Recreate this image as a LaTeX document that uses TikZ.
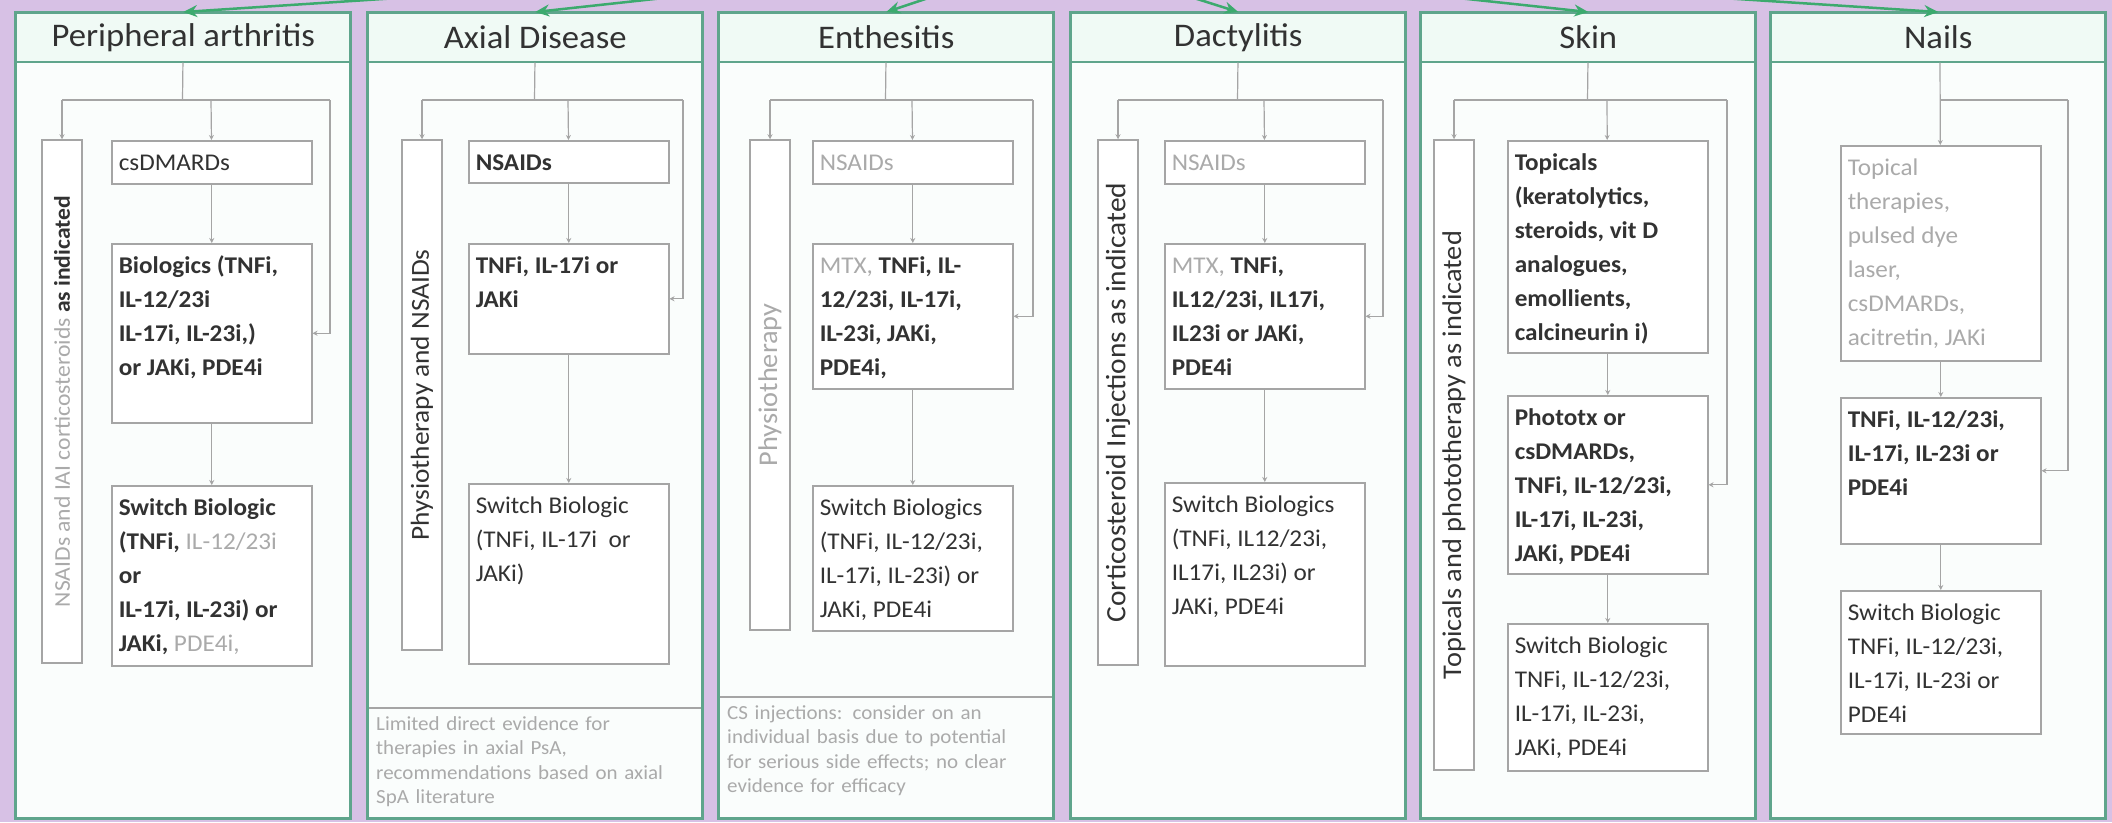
\documentclass[tikz,border=0pt]{standalone}
\usepackage{fontspec}
\setmainfont{Carlito}[FakeStretch=1.05]
\usepackage{tikz}
\usetikzlibrary{arrows.meta}

\definecolor{lavender}{RGB}{215,193,229}
\definecolor{panelgreen}{RGB}{95,165,140}
\definecolor{headfill}{RGB}{240,250,245}
\definecolor{bodyfill}{RGB}{250,253,252}
\definecolor{boxgray}{RGB}{165,165,165}
\definecolor{textdark}{RGB}{50,50,50}
\definecolor{palegray}{RGB}{170,170,170}
\definecolor{flowgreen}{RGB}{60,170,110}

% light text inside a box
\newcommand{\pale}[1]{{\mdseries\color{palegray}#1}}
% top aligned box text: inner height, then text
\newcommand{\boxtext}[2]{\parbox[c][#1][t]{186pt}{\raggedright\rule{0pt}{22pt}#2}}

\begin{document}
\begin{tikzpicture}[
    x=1pt, y=-1pt,
    every node/.style={text=textdark},
    % panel heading
    head/.style={draw=panelgreen, line width=1.5pt, fill=headfill, anchor=north west,
                 minimum width=335pt, minimum height=49pt, inner sep=0pt,
                 font=\fontsize{33}{36}\selectfont},
    % treatment boxes
    tbox/.style={draw=boxgray, line width=1.5pt, fill=white, anchor=north west,
                 inner xsep=7pt, inner ysep=8pt, font=\fontsize{24}{34}\selectfont},
    tboxb/.style={tbox, font=\fontsize{24}{34}\selectfont\bfseries},
    % rotated boxes on the left
    sidebox/.style={draw=boxgray, line width=1.5pt, fill=white, rotate=90,
                 minimum height=40pt, inner sep=0pt, font=\fontsize{#1}{30}\selectfont},
    sidebox/.default=26,
    note/.style={anchor=north west, text width=322pt, align=left, inner sep=0pt,
                 text=palegray, font=\fontsize{20}{24.5}\selectfont},
    link/.style={draw=boxgray, line width=1.2pt},
    arrow/.style={link, -{Stealth[length=5pt, width=5pt]}},
    flow/.style={draw=flowgreen, line width=2.5pt, -{Stealth[length=14pt, width=12pt]}},
    panel/.style={draw=panelgreen, line width=3pt}
]

\useasboundingbox (0,0) rectangle (2112,822);
\clip (0,0) rectangle (2112,822);
\fill[lavender] (0,0) rectangle (2112,822);

% === PANELS ===
\foreach \px in {15,367,718,1070,1420,1770}
    \fill[bodyfill] (\px,12) rectangle ++(335,806);

% === PANEL 1: PERIPHERAL ARTHRITIS ===
\node[head] (h1) at (15,12) {Peripheral arthritis};
\node[sidebox=22.5, minimum width=523pt] (s1) at (62,401.5)
    {\pale{NSAIDs and IAI corticosteroids} \textbf{as indicated}};
\node[tbox] (a1) at (111,140) {\boxtext{27pt}{csDMARDs}};
\node[tboxb] (b1) at (111,243)
    {\boxtext{163pt}{Biologics (TNFi,\\ IL-12/23i\\ IL-17i, IL-23i,)\\ or JAKi, PDE4i}};
\node[tboxb] (c1) at (111,485)
    {\boxtext{164pt}{Switch Biologic\\ (TNFi, \pale{IL-12/23i}\\ or\\ IL-17i, IL-23i) or\\ JAKi, \pale{PDE4i,}}};

\coordinate (j1) at (182.5,100);
\coordinate (l1) at (62,100);
\coordinate (m1) at (211,100);
\coordinate (r1) at (330,100);
\draw[link] (h1) -- (j1);
\draw[link] (l1) -- (r1);
\draw[arrow] (l1) -- (s1);
\draw[arrow] (m1) -- (a1);
\draw[arrow] (r1) |- (b1);
\draw[arrow] (a1) -- (b1);
\draw[arrow] (b1) -- (c1);

% === PANEL 2: AXIAL DISEASE ===
\node[head] (h2) at (367,12) {Axial Disease};
\node[sidebox, minimum width=510pt] (s2) at (422,395) {Physiotherapy and NSAIDs};
\node[tboxb] (a2) at (468,140) {\boxtext{26pt}{NSAIDs}};
\node[tboxb] (b2) at (468,243) {\boxtext{94pt}{TNFi, IL-17i or\\ JAKi}};
\node[tbox] (c2) at (468,483) {\boxtext{164pt}{Switch Biologic\\ (TNFi, IL-17i~ or\\ JAKi)}};
\draw[link] (367,708) -- (702,708);
\node[note] (n2) at (376,716)
    {Limited direct evidence for\\ therapies in axial PsA,\\ recommendations based on axial\\ SpA literature};

\coordinate (j2) at (534.5,100);
\coordinate (l2) at (422,100);
\coordinate (m2) at (568,100);
\coordinate (r2) at (683,100);
\draw[link] (h2) -- (j2);
\draw[link] (l2) -- (r2);
\draw[arrow] (l2) -- (s2);
\draw[arrow] (m2) -- (a2);
\draw[arrow] (r2) |- (b2);
\draw[arrow] (a2) -- (b2);
\draw[arrow] (b2) -- (c2);

% === PANEL 3: ENTHESITIS ===
\node[head] (h3) at (718,12) {Enthesitis};
\node[sidebox=27, minimum width=490pt] (s3) at (770,385) {\pale{Physiotherapy}};
\node[tbox] (a3) at (812,140) {\boxtext{27pt}{\pale{NSAIDs}}};
\node[tboxb] (b3) at (812,243)
    {\boxtext{129pt}{\pale{MTX,} TNFi, IL-\\ 12/23i, IL-17i,\\ IL-23i, JAKi,\\ PDE4i,}};
\node[tbox] (c3) at (812,485)
    {\boxtext{129pt}{Switch Biologics\\ (TNFi, IL-12/23i,\\ IL-17i, IL-23i) or\\ JAKi, PDE4i}};
\draw[link] (718,697) -- (1053,697);
\node[note] (n3) at (727,705)
    {CS injections: consider on an\\ individual basis due to potential\\ for serious side effects; no clear\\ evidence for efficacy};

\coordinate (j3) at (885.5,100);
\coordinate (l3) at (770,100);
\coordinate (m3) at (912,100);
\coordinate (r3) at (1033,100);
\draw[link] (h3) -- (j3);
\draw[link] (l3) -- (r3);
\draw[arrow] (l3) -- (s3);
\draw[arrow] (m3) -- (a3);
\draw[arrow] (r3) |- (b3);
\draw[arrow] (a3) -- (b3);
\draw[arrow] (b3) -- (c3);

% === PANEL 4: DACTYLITIS ===
\node[head] (h4) at (1070,12) {Dactylitis};
\node[sidebox=28, minimum width=525pt] (s4) at (1118,402.5) {Corticosteroid Injections as indicated};
\node[tbox] (a4) at (1164,140) {\boxtext{27pt}{\pale{NSAIDs}}};
\node[tboxb] (b4) at (1164,243)
    {\boxtext{129pt}{\pale{MTX,} TNFi,\\ IL12/23i, IL17i,\\ IL23i or JAKi,\\ PDE4i}};
\node[tbox] (c4) at (1164,482)
    {\boxtext{167pt}{Switch Biologics\\ (TNFi, IL12/23i,\\ IL17i, IL23i) or\\ JAKi, PDE4i}};

\coordinate (j4) at (1237.5,100);
\coordinate (l4) at (1118,100);
\coordinate (m4) at (1264,100);
\coordinate (r4) at (1383,100);
\draw[link] (h4) -- (j4);
\draw[link] (l4) -- (r4);
\draw[arrow] (l4) -- (s4);
\draw[arrow] (m4) -- (a4);
\draw[arrow] (r4) |- (b4);
\draw[arrow] (a4) -- (b4);
\draw[arrow] (b4) -- (c4);

% === PANEL 5: SKIN ===
\node[head] (h5) at (1420,12) {Skin};
\node[sidebox=27, minimum width=630pt] (s5) at (1454,455) {Topicals and phototherapy as indicated};
\node[tboxb] (a5) at (1507,140)
    {\boxtext{196pt}{Topicals\\ (keratolytics,\\ steroids, vit D\\ analogues,\\ emollients,\\ calcineurin i)}};
\node[tboxb] (b5) at (1507,395)
    {\boxtext{162pt}{Phototx or\\ csDMARDs,\\ TNFi, IL-12/23i,\\ IL-17i, IL-23i,\\ JAKi, PDE4i}};
\node[tbox] (c5) at (1507,623)
    {\boxtext{131pt}{Switch Biologic\\ TNFi, IL-12/23i,\\ IL-17i, IL-23i,\\ JAKi, PDE4i}};

\coordinate (j5) at (1587.5,100);
\coordinate (l5) at (1454,100);
\coordinate (m5) at (1607,100);
\coordinate (r5) at (1727,100);
\draw[link] (h5) -- (j5);
\draw[link] (l5) -- (r5);
\draw[arrow] (l5) -- (s5);
\draw[arrow] (m5) -- (a5);
\draw[arrow] (r5) |- (b5);
\draw[arrow] (a5) -- (b5);
\draw[arrow] (b5) -- (c5);

% === PANEL 6: NAILS ===
\node[head] (h6) at (1770,12) {Nails};
\node[tbox] (a6) at (1840,145)
    {\boxtext{199pt}{\pale{Topical\\ therapies,\\ pulsed dye\\ laser,\\ csDMARDs,\\ acitretin, JAKi}}};
\node[tboxb] (b6) at (1840,397)
    {\boxtext{130pt}{TNFi, IL-12/23i,\\ IL-17i, IL-23i or\\ PDE4i}};
\node[tbox] (c6) at (1840,590)
    {\boxtext{127pt}{Switch Biologic\\ TNFi, IL-12/23i,\\ IL-17i, IL-23i or\\ PDE4i}};

\coordinate (j6) at (1940,100);
\coordinate (r6) at (2068,100);
\draw[arrow] (j6 |- h6.south) -- (a6);
\draw[link] (j6) -- (r6);
\draw[arrow] (r6) |- (b6);
\draw[arrow] (a6) -- (b6);
\draw[arrow] (b6) -- (c6);

% === FRAMES AND INCOMING ARROWS ===
\foreach \px in {15,367,718,1070,1420,1770}
    \draw[panel] (\px,12) rectangle ++(335,806);

\coordinate (src) at (1058,-45);
\foreach \h in {h1,h2,h3,h4,h5,h6}
    \draw[flow] (src) -- (\h.north);

\end{tikzpicture}
\end{document}
